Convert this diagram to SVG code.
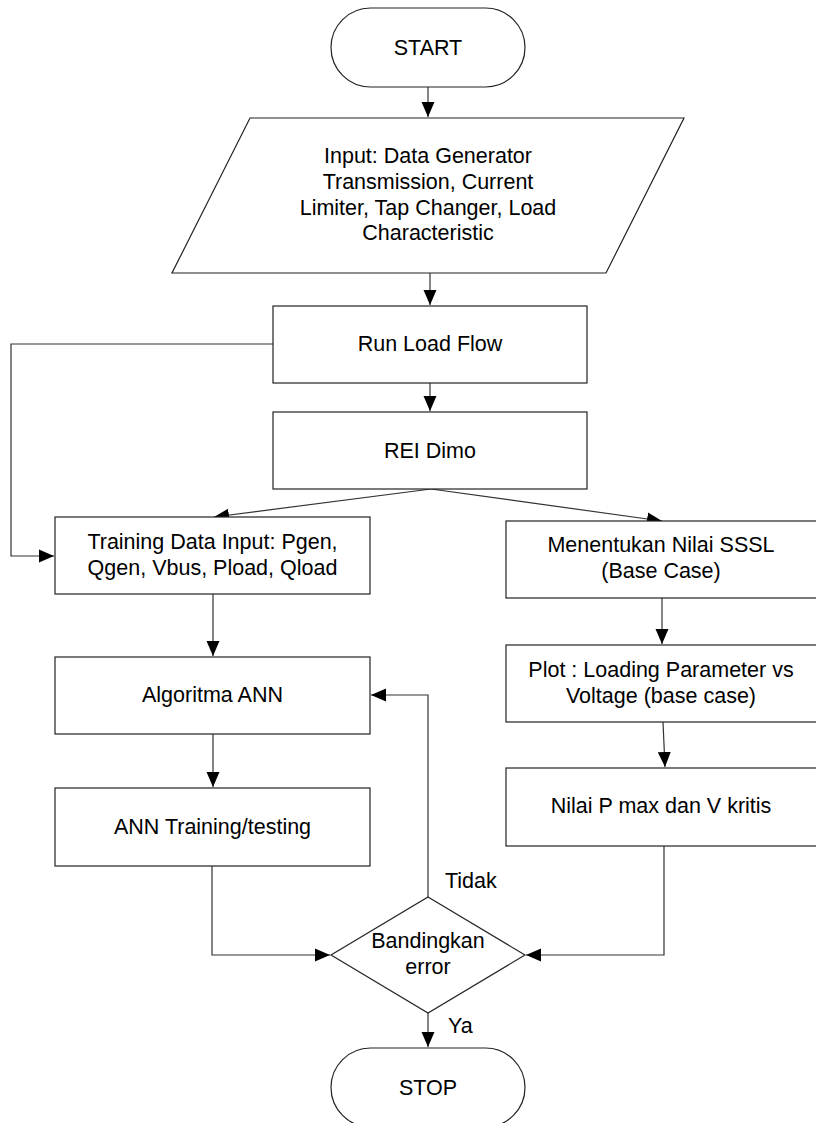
<svg xmlns="http://www.w3.org/2000/svg" width="816" height="1123" viewBox="0 0 816 1123">
<style>
.s{fill:#fff;stroke:#222;stroke-width:1.2}
.t{font-family:"Liberation Sans",Arial,sans-serif;font-size:21.5px;fill:#000;text-anchor:middle}
.l{font-family:"Liberation Sans",Arial,sans-serif;font-size:21.5px;fill:#000}
.c{fill:none;stroke:#333;stroke-width:1.2}
</style>
<defs>
<marker id="ah" markerUnits="userSpaceOnUse" markerWidth="16" markerHeight="16" viewBox="0 0 16 16" refX="15" refY="8" orient="auto">
<path d="M0,1.5 L15,8 L0,14.5 z" fill="#000"/>
</marker>
</defs>
<rect width="816" height="1123" fill="#fff"/>
<g id="connectors">
<path class="c" d="M428,87 V117" marker-end="url(#ah)"/>
<path class="c" d="M430,273 V305" marker-end="url(#ah)"/>
<path class="c" d="M430,383 V411" marker-end="url(#ah)"/>
<path class="c" d="M273,344 H11 V556 H54" marker-end="url(#ah)"/>
<path class="c" d="M431,489 L214,517" marker-end="url(#ah)"/>
<path class="c" d="M431,489 L662,521" marker-end="url(#ah)"/>
<path class="c" d="M213,594 V656" marker-end="url(#ah)"/>
<path class="c" d="M213,734 V787" marker-end="url(#ah)"/>
<path class="c" d="M662,598 V644" marker-end="url(#ah)"/>
<path class="c" d="M663,722 L665,767" marker-end="url(#ah)"/>
<path class="c" d="M212,866 V955 H330" marker-end="url(#ah)"/>
<path class="c" d="M664,846 V955 H526" marker-end="url(#ah)"/>
<path class="c" d="M428,897 V695 H371" marker-end="url(#ah)"/>
<path class="c" d="M428,1013 V1047" marker-end="url(#ah)"/>
</g>
<g id="start">
<rect class="s" x="331" y="8" width="194" height="79" rx="39.5" ry="39.5"/>
<text class="t" x="428" y="55">START</text>
</g>
<g id="input">
<polygon class="s" points="250,118 684,118 606,273 172,273"/>
<text class="t" x="428" y="163">Input: Data Generator</text>
<text class="t" x="428" y="189">Transmission, Current</text>
<text class="t" x="428" y="215">Limiter, Tap Changer, Load</text>
<text class="t" x="428" y="240">Characteristic</text>
</g>
<g id="loadflow">
<rect class="s" x="273" y="306" width="314" height="77"/>
<text class="t" x="430" y="351">Run Load Flow</text>
</g>
<g id="reidimo">
<rect class="s" x="273" y="412" width="314" height="77"/>
<text class="t" x="430" y="458">REI Dimo</text>
</g>
<g id="training">
<rect class="s" x="55" y="517" width="315" height="77"/>
<text class="t" x="212.5" y="549">Training Data Input: Pgen,</text>
<text class="t" x="212.5" y="575">Qgen, Vbus, Pload, Qload</text>
</g>
<g id="algoritma">
<rect class="s" x="55" y="657" width="315" height="77"/>
<text class="t" x="212.5" y="702">Algoritma ANN</text>
</g>
<g id="anntraining">
<rect class="s" x="55" y="788" width="315" height="78"/>
<text class="t" x="212.5" y="834">ANN Training/testing</text>
</g>
<g id="sssl">
<rect class="s" x="506" y="521" width="318" height="77"/>
<text class="t" x="661" y="552">Menentukan Nilai SSSL</text>
<text class="t" x="661" y="578">(Base Case)</text>
</g>
<g id="plot">
<rect class="s" x="506" y="645" width="318" height="77"/>
<text class="t" x="661" y="677">Plot : Loading Parameter vs</text>
<text class="t" x="661" y="703">Voltage (base case)</text>
</g>
<g id="nilai">
<rect class="s" x="506" y="768" width="318" height="78"/>
<text class="t" x="661" y="813">Nilai P max dan V kritis</text>
</g>
<g id="decision">
<polygon class="s" points="428,897 525,955 428,1013 331,955"/>
<text class="t" x="428" y="948">Bandingkan</text>
<text class="t" x="428" y="974">error</text>
</g>
<g id="labels">
<text class="l" x="445" y="888">Tidak</text>
<text class="l" x="448" y="1033">Ya</text>
</g>
<g id="stop">
<rect class="s" x="331" y="1048" width="194" height="79" rx="39.5" ry="39.5"/>
<text class="t" x="428" y="1095">STOP</text>
</g>
</svg>
